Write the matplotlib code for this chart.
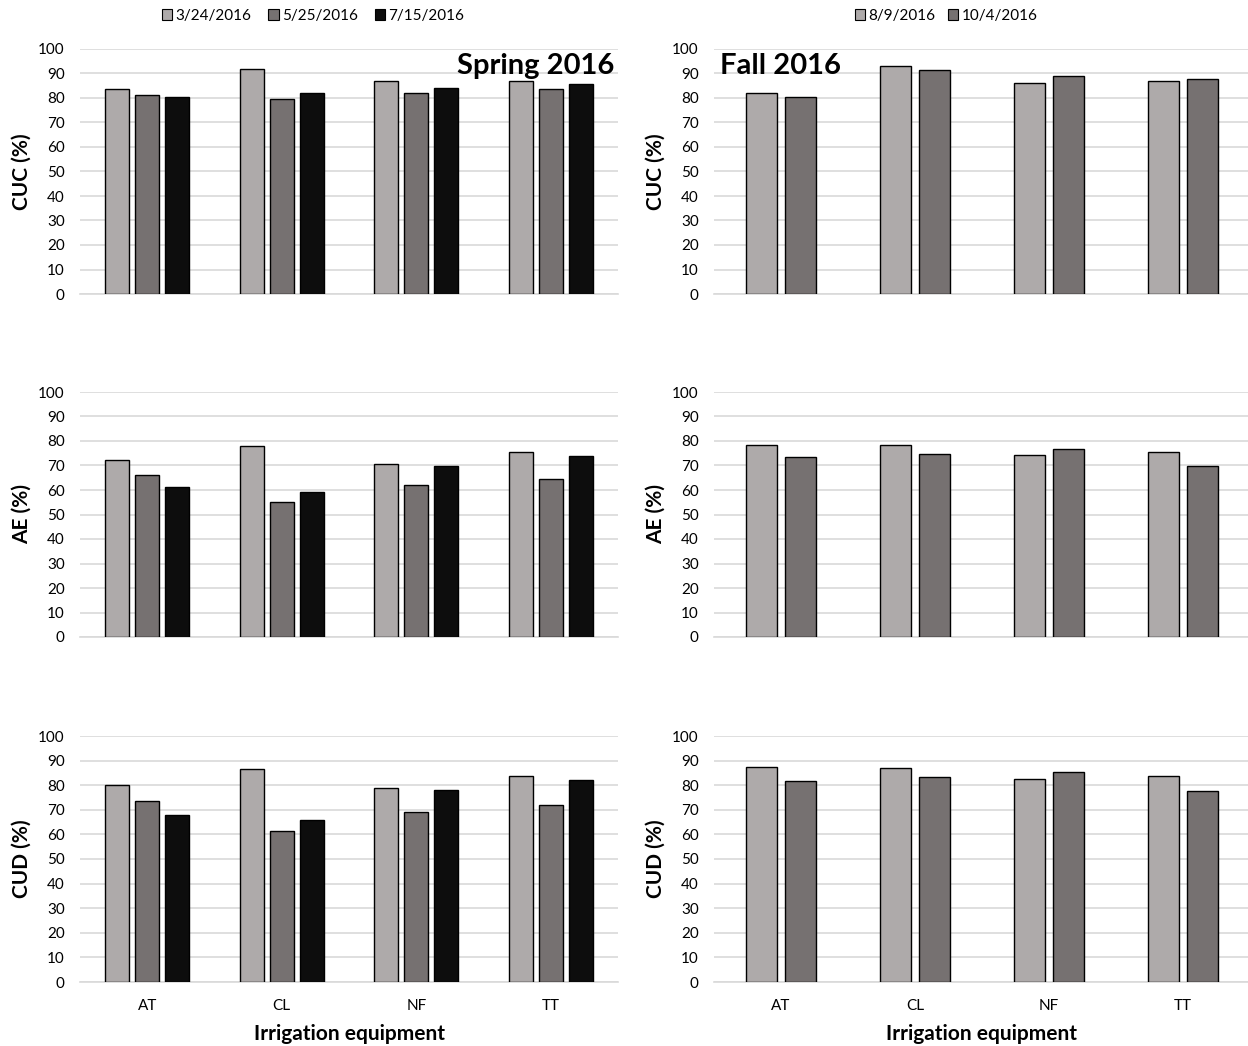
import numpy as np
import matplotlib
matplotlib.use("Agg")
import matplotlib.pyplot as plt
from matplotlib.patches import Patch

plt.rcParams['font.family'] = ['Lato', 'DejaVu Sans']

categories = ["AT", "CL", "NF", "TT"]
spring_dates = ["3/24/2016", "5/25/2016", "7/15/2016"]
fall_dates = ["8/9/2016", "10/4/2016"]

# Spring 2016 values (per date, per category)
cuc_spring = [[83.6, 91.8, 86.9, 86.9],
              [81.4, 79.4, 82.0, 83.7],
              [80.6, 82.1, 83.9, 85.8]]
ae_spring = [[72.1, 78.1, 70.6, 75.4],
             [66.3, 55.2, 62.0, 64.6],
             [61.1, 59.2, 69.9, 73.9]]
cud_spring = [[79.9, 86.5, 78.8, 83.8],
              [73.6, 61.4, 69.0, 71.9],
              [67.9, 65.9, 77.9, 82.2]]

# Fall 2016 values
cuc_fall = [[82.1, 93.2, 86.1, 87.0],
            [80.6, 91.4, 89.1, 87.6]]
ae_fall = [[78.5, 78.4, 74.3, 75.4],
           [73.5, 74.8, 76.6, 69.9]]
cud_fall = [[87.2, 87.1, 82.6, 83.7],
            [81.8, 83.2, 85.3, 77.6]]

ylabels = ["CUC (%)", "AE (%)", "CUD (%)"]
spring_colors = ["#AEAAAA", "#767171", "#0D0D0D"]
fall_colors = ["#AEAAAA", "#767171"]

W, H = 1248, 1046
fig = plt.figure(figsize=(W / 100, H / 100), dpi=100)

rows = [(49, 294), (392, 637), (736, 982)]
left_col = (80, 618)
right_col = (714, 1250)

def make_ax(col, row):
    x0, x1 = col
    y0, y1 = row
    return fig.add_axes([x0 / W, 1 - y1 / H, (x1 - x0) / W, (y1 - y0) / H])

def style(ax, ylabel, show_x):
    ax.set_ylim(0, 100)
    ax.set_xlim(-0.5, 3.5)
    ax.set_yticks(np.arange(0, 101, 10))
    ax.yaxis.grid(True, color="#D9D9D9", lw=1.2)
    ax.set_axisbelow(True)
    for s in ["top", "right", "left"]:
        ax.spines[s].set_visible(False)
    ax.spines["bottom"].set_color("#D9D9D9")
    ax.spines["bottom"].set_linewidth(1.2)
    ax.tick_params(axis="both", length=0, labelsize=11, colors="#000000")
    ax.tick_params(axis="y", pad=11)
    ax.tick_params(axis="x", pad=12)
    ax.set_xticks(np.arange(len(categories)))
    if show_x:
        ax.set_xticklabels(categories)
        ax.set_xlabel("Irrigation equipment", fontsize=15, fontweight="bold", labelpad=8)
    else:
        ax.set_xticklabels([])
    ax.set_ylabel(ylabel, fontsize=15, fontweight="bold")
    ax.yaxis.set_label_coords(-0.09, 0.5)

spring_data = [cuc_spring, ae_spring, cud_spring]
fall_data = [cuc_fall, ae_fall, cud_fall]
x = np.arange(len(categories))

for i in range(3):
    ax = make_ax(left_col, rows[i])
    for j, vals in enumerate(spring_data[i]):
        ax.bar(x + (j - 1) * 0.222, vals, width=0.178, color=spring_colors[j],
               edgecolor="black", linewidth=1.0, zorder=3)
    style(ax, ylabels[i], i == 2)
    if i == 0:
        ax.text(0.993, 0.985, "Spring 2016", transform=ax.transAxes, ha="right", va="top",
                fontsize=21, fontweight="bold")

    ax2 = make_ax(right_col, rows[i])
    for j, vals in enumerate(fall_data[i]):
        ax2.bar(x + (j - 0.5) * 0.288, vals, width=0.23, color=fall_colors[j],
                edgecolor="black", linewidth=1.0, zorder=3)
    style(ax2, ylabels[i], i == 2)
    if i == 0:
        ax2.text(0.012, 0.985, "Fall 2016", transform=ax2.transAxes, ha="left", va="top",
                 fontsize=21, fontweight="bold")

sp_handles = [Patch(facecolor=c, edgecolor="black", linewidth=0.8) for c in spring_colors]
fig.legend(sp_handles, spring_dates, loc="upper center", bbox_to_anchor=(313 / W, 1 + 5 / H),
           ncol=3, frameon=False, fontsize=11, handlelength=0.7, handleheight=0.7,
           handletextpad=0.2, columnspacing=1.1)
fa_handles = [Patch(facecolor=c, edgecolor="black", linewidth=0.8) for c in fall_colors]
fig.legend(fa_handles, fall_dates, loc="upper center", bbox_to_anchor=(946 / W, 1 + 5 / H),
           ncol=2, frameon=False, fontsize=11, handlelength=0.7, handleheight=0.7,
           handletextpad=0.2, columnspacing=0.8)

fig.savefig("out.png", dpi=100)
